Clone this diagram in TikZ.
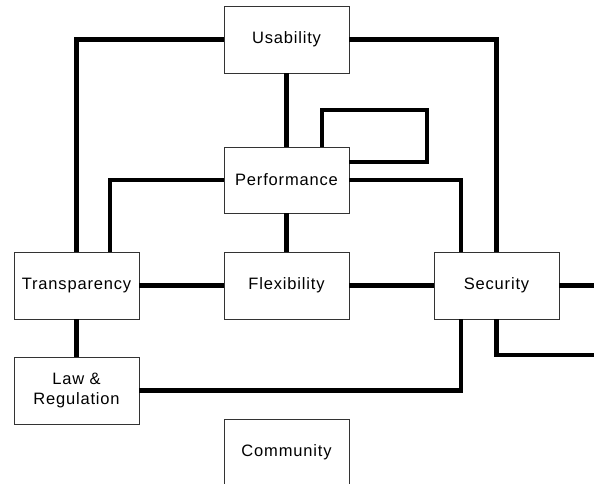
\documentclass[tikz,border=0pt]{standalone}
\usepackage{fontspec}
\setmainfont{Liberation Sans}[LetterSpace=5.0]
\begin{document}
\begin{tikzpicture}[x=1pt,y=-1pt,
  box/.style={draw=black!80, line width=0.9pt, fill=white, minimum width=125pt, minimum height=67pt, inner sep=0pt, align=center, font=\fontsize{16.5}{20}\selectfont},
  link/.style={line width=4.2pt, black}]
\useasboundingbox (0,0) rectangle (594,484);
\node[box] (U) at (286.5,39.5) {Usability};
\node[box, minimum height=66pt] (P) at (286.5,180) {Performance};
\node[box] (F) at (286.5,285.5) {Flexibility};
\node[box] (T) at (76.5,285.5) {Transparency};
\node[box] (L) at (76.5,390.5) {Law \&\\Regulation};
\node[box] (S) at (496.5,285.5) {Security};
\node[box] (C) at (286.5,452.5) {Community};
\coordinate (e1) at (594,285.5);
\coordinate (e2) at (594,355);
\coordinate (l1) at (322,110);
\coordinate (l2) at (427,110);
\coordinate (l3) at (427,162);
\draw[link] (U.west) -| (T.north);
\draw[link] (U.east) -| (S.north);
\draw[link] (U) -- (P);
\draw[link] ([xshift=35.5pt]P.north) -- (l1) -- (l2) -- (l3) -- (l3 -| P.east);
\draw[link] (P.west) -| ([xshift=33.5pt]T.north);
\draw[link] (P.east) -| ([xshift=-35.5pt]S.north);
\draw[link] (P) -- (F);
\draw[link] (T) -- (F);
\draw[link] (F) -- (S);
\draw[link] (S.east) -- (e1);
\draw[link] (S.south) |- (e2);
\draw[link] ([xshift=-35.5pt]S.south) |- (L.east);
\draw[link] (T) -- (L);
\end{tikzpicture}
\end{document}
